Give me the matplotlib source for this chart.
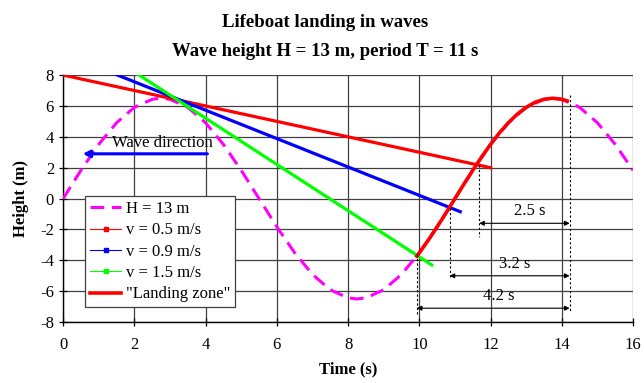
import matplotlib
matplotlib.use('Agg')
import matplotlib.pyplot as plt
from matplotlib.lines import Line2D

# wave H = 13 m, T = 11 s
wave_t = [0, 0.5, 1.0, 1.5, 2.0, 2.5, 2.75, 3.0, 3.5, 4.0, 4.5, 5.0, 5.5, 6.0, 6.5,
          7.0, 7.5, 8.0, 8.25, 8.5, 9.0, 9.5, 10.0, 10.5, 11.0, 11.5, 12.0, 12.5,
          13.0, 13.5, 13.75, 14.0, 14.5, 15.0, 15.5, 16.0]
wave_h = [0.00, 1.83, 3.51, 4.91, 5.91, 6.43, 6.50, 6.43, 5.91, 4.91, 3.51, 1.83, 0.00,
          -1.83, -3.51, -4.91, -5.91, -6.43, -6.50, -6.43, -5.91, -4.91, -3.51, -1.83,
          0.00, 1.83, 3.51, 4.91, 5.91, 6.43, 6.50, 6.43, 5.91, 4.91, 3.51, 1.83]

# lifeboat tracks (start, end)
v05_t = [0.0, 12.0]
v05_h = [8.0, 2.0]
v09_t = [1.2, 11.15]
v09_h = [8.3, -0.85]
v15_t = [2.0, 10.35]
v15_h = [8.2, -4.3]

# landing zone part of the wave
land_t = [9.9, 10.0, 10.25, 10.5, 10.75, 11.0, 11.25, 11.5, 11.75, 12.0, 12.25, 12.5,
          12.75, 13.0, 13.25, 13.5, 13.75, 14.0, 14.2]
land_h = [-3.82, -3.51, -2.70, -1.83, -0.93, 0.00, 0.93, 1.83, 2.70, 3.51, 4.26, 4.91,
          5.47, 5.91, 6.24, 6.43, 6.50, 6.43, 6.29]

# time spans: label, start time, arrow height, top / bottom of dashed marker line
spans = [('2.5 s', 11.68, -1.6, 2.2, -2.5),
         ('3.2 s', 10.85, -5.0, -0.6, -5.1),
         ('4.2 s', 9.93, -7.1, -3.6, -7.5)]
END_T = 14.22

plt.rcParams['font.family'] = ['Liberation Serif', 'DejaVu Serif']
plt.rcParams['axes.unicode_minus'] = False

fig = plt.figure(figsize=(6.44, 3.83), dpi=100)
ax = fig.add_axes([0.098, 0.159, 0.885, 0.645])

ax.plot(wave_t, wave_h, color='#FF00FF', lw=2.2, linestyle=(0, (4.5, 2.5)), zorder=3)
ax.plot(v05_t, v05_h, color='#FF0000', lw=2.3, zorder=4)
ax.plot(v09_t, v09_h, color='#0000FF', lw=2.3, zorder=4)
ax.plot(v15_t, v15_h, color='#00FF00', lw=2.3, zorder=4)
ax.plot(land_t, land_h, color='#FF0000', lw=2.6, solid_capstyle='butt', zorder=5)

# dashed markers and span arrows
for label, t0, ya, ytop, ybot in spans:
    ax.plot([t0, t0], [ytop, ybot], color='black', lw=0.8, linestyle=(0, (2, 2)), zorder=6)
    ax.annotate('', xy=(t0, ya), xytext=(END_T, ya),
                arrowprops=dict(arrowstyle='<|-|>', color='black', lw=0.8,
                                mutation_scale=7, shrinkA=0, shrinkB=0), zorder=6)
    ax.text((t0 + END_T) / 2 + 0.15, ya + 0.25, label, ha='center', va='bottom', fontsize=12)
ax.plot([END_T, END_T], [6.7, -7.3], color='black', lw=0.8, linestyle=(0, (2, 2)), zorder=6)

ax.annotate('', xy=(0.55, 2.9), xytext=(4.05, 2.9),
            arrowprops=dict(arrowstyle='-|>', color='#0000FF', lw=2.2,
                            mutation_scale=10, shrinkA=0, shrinkB=0))
ax.text(2.8, 3.1, 'Wave direction', ha='center', va='bottom', fontsize=12)

ax.set_xlim(0, 16)
ax.set_ylim(-8, 8)
ax.set_xticks(range(0, 17, 2))
ax.set_yticks(range(-8, 9, 2))
ax.grid(True, color='#404040', lw=0.9)
ax.set_axisbelow(True)
ax.tick_params(direction='inout', length=6, width=0.9, labelsize=12)
for side in ['top', 'right']:
    ax.spines[side].set_visible(False)
ax.spines['left'].set_linewidth(1.0)
ax.spines['bottom'].set_linewidth(1.0)
ax.tick_params(axis='x', pad=8)

ax.set_xlabel('Time (s)', fontsize=12, fontweight='bold', labelpad=6)
ax.set_ylabel('Height (m)', fontsize=12, fontweight='bold', labelpad=8)

handles = [
    Line2D([], [], color='#FF00FF', lw=2.2, linestyle=(0, (4.5, 2.5))),
    Line2D([], [], color='#FF0000', lw=0.8, marker='s', markersize=2.5),
    Line2D([], [], color='#0000FF', lw=0.8, marker='s', markersize=2.5),
    Line2D([], [], color='#00FF00', lw=0.8, marker='s', markersize=2.5),
    Line2D([], [], color='#FF0000', lw=2.6),
]
labels = ['H = 13 m', 'v = 0.5 m/s', 'v = 0.9 m/s', 'v = 1.5 m/s', '"Landing zone"']
leg = ax.legend(handles, labels, loc='upper left', bbox_to_anchor=(0.038, 0.51),
                fontsize=12, frameon=True, fancybox=False, framealpha=1,
                edgecolor='#404040', handlelength=1.9, handletextpad=0.25, numpoints=1,
                labelspacing=0.32, borderpad=0.3, borderaxespad=0)
leg.get_frame().set_linewidth(0.9)

fig.text(0.505, 0.94, 'Lifeboat landing in waves', ha='center', va='center',
         fontsize=13.5, fontweight='bold')
fig.text(0.505, 0.865, 'Wave height H = 13 m, period T = 11 s', ha='center', va='center',
         fontsize=13.5, fontweight='bold')

fig.savefig('out.png', dpi=100)
